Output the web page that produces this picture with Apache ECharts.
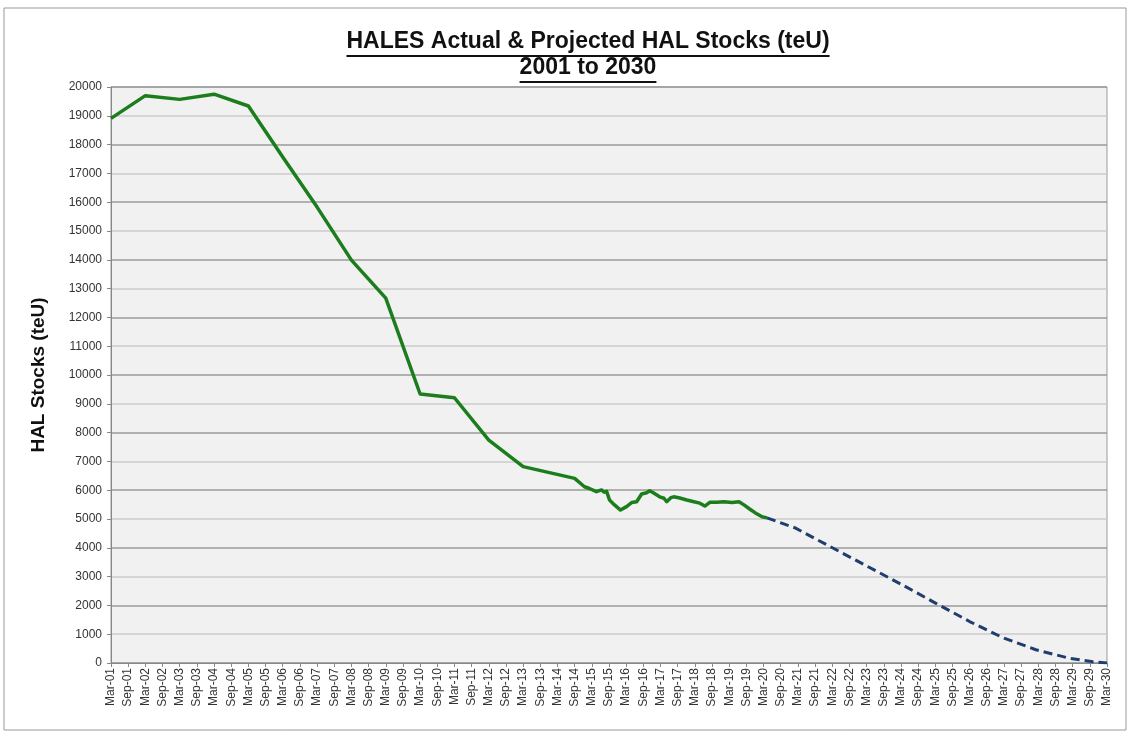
<!DOCTYPE html>
<html>
<head>
<meta charset="utf-8">
<title>HALES HAL Stocks</title>
<script src="https://cdn.jsdelivr.net/npm/echarts@6/dist/echarts.min.js"></script>
<style>
  html, body { margin:0; padding:0; background:#fff; }
  #main { width:1130px; height:733px; }
</style>
</head>
<body>
<div id="main"></div>
<script>
// tick labels, one per half year
var tickLabels = ['Mar-01','Sep-01','Mar-02','Sep-02','Mar-03','Sep-03','Mar-04','Sep-04','Mar-05','Sep-05',
  'Mar-06','Sep-06','Mar-07','Sep-07','Mar-08','Sep-08','Mar-09','Sep-09','Mar-10','Sep-10',
  'Mar-11','Sep-11','Mar-12','Sep-12','Mar-13','Sep-13','Mar-14','Sep-14','Mar-15','Sep-15',
  'Mar-16','Sep-16','Mar-17','Sep-17','Mar-18','Sep-18','Mar-19','Sep-19','Mar-20','Sep-20',
  'Mar-21','Sep-21','Mar-22','Sep-22','Mar-23','Sep-23','Mar-24','Sep-24','Mar-25','Sep-25',
  'Mar-26','Sep-26','Mar-27','Sep-27','Mar-28','Sep-28','Mar-29','Sep-29','Mar-30'];

// actual stocks (position = half years since Mar-01)
var actualPos = [0, 2, 4, 6, 8, 10, 12, 14, 16, 18, 20, 22, 24, 27,
  27.57, 27.86, 28.27, 28.56, 28.72, 28.86, 29.03, 29.32, 29.67, 30.02, 30.32, 30.61, 30.9,
  31.19, 31.37, 31.6, 31.95, 32.2, 32.36, 32.6, 32.77, 33.12, 33.53, 33.94, 34.29, 34.58, 34.87,
  35.28, 35.69, 36.16, 36.57, 36.86, 37.21, 37.5, 37.91, 38.2];
var actualStock = [18910, 19700, 19570, 19750, 19340, 17570, 15830, 13990, 12670, 9340, 9210, 7740, 6820, 6410,
  6120, 6060, 5950, 6010, 5930, 5960, 5660, 5490, 5310, 5430, 5570, 5600, 5870,
  5910, 5980, 5900, 5770, 5720, 5600, 5740, 5770, 5730, 5660, 5600, 5550, 5450, 5580,
  5580, 5600, 5570, 5600, 5490, 5340, 5220, 5080, 5040];

// projected stocks
var projPos = [38.2, 39.84, 41.82, 43.75, 45.33, 46.09, 48.01, 50, 51.93, 53.86, 55.84, 57.18, 58];
var projStock = [5040, 4690, 4060, 3450, 2950, 2710, 2080, 1440, 880, 460, 160, 40, 0];

var titleText = 'HALES Actual & Projected HAL Stocks (teU)';
var subText = '2001 to 2030';
var titleFont = 'bold 23px "Liberation Sans", Arial, sans-serif';

function pairs(xs, ys){
  var out = [];
  for (var i = 0; i < xs.length; i++) out.push([xs[i], ys[i]]);
  return out;
}

// measure title widths for the underline
var ctx = document.createElement('canvas').getContext('2d');
ctx.font = titleFont;
var w1 = ctx.measureText(titleText).width;
var w2 = ctx.measureText(subText).width;
var cx = 588;

var chart = echarts.init(document.getElementById('main'));
chart.setOption({
  animation: false,
  backgroundColor: '#fff',
  textStyle: { fontFamily: '"Liberation Sans", Arial, sans-serif' },
  grid: {
    left: 111, right: 23, top: 87, bottom: 70,
    show: true, backgroundColor: '#f1f1f1', borderColor: '#999', borderWidth: 1
  },
  graphic: [
    { type: 'rect', shape: { x: 4, y: 8, width: 1122, height: 722 }, style: { fill: 'none', stroke: '#999', lineWidth: 1 }, silent: true },
    { type: 'text', x: cx, y: 42, style: { text: titleText, font: titleFont, fill: '#111', align: 'center', verticalAlign: 'middle' } },
    { type: 'text', x: cx, y: 68, style: { text: subText, font: titleFont, fill: '#111', align: 'center', verticalAlign: 'middle' } },
    { type: 'rect', shape: { x: cx - w1 / 2, y: 55, width: w1, height: 2 }, style: { fill: '#111' } },
    { type: 'rect', shape: { x: cx - w2 / 2, y: 81, width: w2, height: 2 }, style: { fill: '#111' } }
  ],
  xAxis: {
    type: 'value', min: 0, max: 58, interval: 1,
    axisLine: { show: true, onZero: false, lineStyle: { color: '#888' } },
    axisTick: { show: true, length: 4, lineStyle: { color: '#888' } },
    splitLine: { show: false },
    axisLabel: {
      rotate: 90, fontSize: 12, color: '#333', margin: 5,
      formatter: function (v) { return tickLabels[v] || ''; }
    }
  },
  yAxis: {
    type: 'value', min: 0, max: 20000, interval: 1000,
    name: 'HAL Stocks (teU)', nameLocation: 'middle', nameGap: 63, nameRotate: 90,
    nameTextStyle: { fontSize: 19, fontWeight: 'bold', color: '#111' },
    axisLine: { show: true, lineStyle: { color: '#888' } },
    axisTick: { show: true, length: 4, lineStyle: { color: '#888' } },
    splitLine: { show: true, lineStyle: { color: ['#9a9a9a', '#cbcbcb'], width: 1.5 } },
    axisLabel: { fontSize: 12, color: '#333', margin: 9, formatter: function (v) { return String(v); } }
  },
  series: [
    {
      name: 'Actual', type: 'line', symbol: 'none',
      data: pairs(actualPos, actualStock),
      lineStyle: { color: '#1c7d1c', width: 3.5, join: 'round' },
      z: 3
    },
    {
      name: 'Projected', type: 'line', symbol: 'none',
      data: pairs(projPos, projStock),
      lineStyle: { color: '#1f3d6e', width: 3, type: [9, 5], join: 'round' },
      z: 2
    }
  ]
});
</script>
</body>
</html>
